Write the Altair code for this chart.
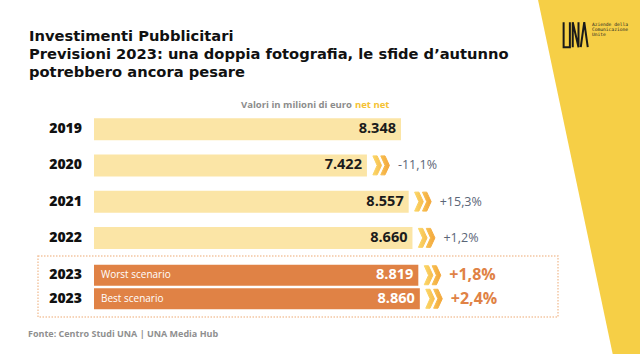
import altair as alt
import pandas as pd

# ---------------- data ----------------
years = ["2019", "2020", "2021", "2022", "2023", "2023"]
values = [8348, 7422, 8557, 8660, 8819, 8860]
changes = ["", "-11,1%", "+15,3%", "+1,2%", "+1,8%", "+2,4%"]
scenarios = ["", "", "", "", "Worst scenario", "Best scenario"]
groups = ["hist", "hist", "hist", "hist", "fcst", "fcst"]

title_lines = [
    "Investimenti Pubblicitari",
    "Previsioni 2023: una doppia fotografia, le sfide d\u2019autunno",
    "potrebbero ancora pesare",
]
subtitle_main = "Valori in milioni di euro"
subtitle_accent = "net net"
source_text = "Fonte: Centro Studi UNA | UNA Media Hub"
logo_lines = ["Aziende della", "Comunicazione", "Unite"]


def it_fmt(v):
    return f"{v:,}".replace(",", ".")


df = pd.DataFrame({
    "row": [f"r{i}" for i in range(len(years))],
    "year": years,
    "value": values,
    "label": [it_fmt(v) for v in values],
    "change": changes,
    "scenario": scenarios,
    "group": groups,
})

FONT = "Open Sans"
TFONT = "DejaVu Sans"
YELLOW = "#f6cf46"
LIGHT = "#fbe5a6"
ORANGE = "#e08245"
ONE = alt.Data(values=[{}])

CHEV = ("M-0.85,-1 L-0.4,-1 L0.06,0 L-0.4,1 L-0.85,1 L-0.4,0 Z "
        "M-0.02,-1 L0.43,-1 L0.89,0 L0.43,1 L-0.02,1 L0.43,0 Z")
CHEV_FILL = alt.LinearGradient(
    gradient="linear", x1=0, y1=0, x2=1, y2=0,
    stops=[alt.GradientStop(color="#fbd767", offset=0),
           alt.GradientStop(color="#f3a63a", offset=1)],
)

xs = alt.Scale(domain=[0, 10000], range=[94, 461.75])


def rows_layer(group, y_range, bar_size, bar_color, val_color,
               pct_color, pct_size, pct_weight):
    sub = df[df.group == group]
    ysc = alt.Scale(domain=list(sub.row), range=y_range,
                    paddingInner=0, paddingOuter=0)
    base = alt.Chart(sub).encode(y=alt.Y("row:N", scale=ysc, axis=None))
    X = alt.X("value:Q", scale=xs, axis=None)
    bars = base.mark_bar(size=bar_size, color=bar_color).encode(x=X)
    vals = base.mark_text(align="right", dx=-5, baseline="middle", font=FONT,
                          fontSize=14.5, fontWeight="bold",
                          color=val_color).encode(x=X, text="label:N")
    yrs = base.mark_text(align="right", baseline="middle", font=FONT,
                         fontSize=14, fontWeight=800,
                         color="#111111").encode(x=alt.value(82), text="year:N")
    chg = base.transform_filter("datum.change != ''")
    chev = chg.mark_point(shape=CHEV, size=360, filled=True, opacity=1,
                          fill=CHEV_FILL, stroke=CHEV_FILL, strokeWidth=1,
                          strokeJoin="round", xOffset=14).encode(x=X)
    pct = chg.mark_text(align="left", dx=31, baseline="middle", font=FONT,
                        fontSize=pct_size, fontWeight=pct_weight,
                        color=pct_color).encode(x=X, text="change:N")
    layers = [bars, vals, yrs, chev, pct]
    if group == "fcst":
        scen = base.mark_text(align="left", baseline="middle", font=FONT,
                              fontSize=10, color="white").encode(
            x=alt.value(101), text="scenario:N")
        layers.append(scen)
    return alt.layer(*layers)


hist = rows_layer("hist", [111, 256], 22, LIGHT, "#1b1b1b", "#5b6577", 12.5, 500)
fcst = rows_layer("fcst", [263.5, 310.5], 21, ORANGE, "white", ORANGE, 16, "bold")

# ---------------- decoration ----------------
BG_PATH = "M-0.29,-1.01 L0.136,1.01 L0.31,1.01 L0.31,-1.01 Z"
bg = alt.Chart(ONE).mark_point(shape=BG_PATH, size=125316, filled=True,
                               opacity=1, fill=YELLOW, strokeWidth=0).encode(
    x=alt.value(589), y=alt.value(177))

LOGO_PATH = ("M-0.95,-1 L-0.95,1 L-0.45,1 L-0.45,-1 "
             "M-0.22,1 L-0.22,-1 L0.24,1 L0.24,-1 "
             "M0.42,1 L0.7,-1 L0.98,1")
logo = alt.Chart(ONE).mark_point(shape=LOGO_PATH, size=625, filled=False,
                                 opacity=1, stroke="#1a1a1a",
                                 strokeWidth=2).encode(
    x=alt.value(575.5), y=alt.value(34.7))
logo_txt = alt.Chart(ONE).mark_text(align="left", baseline="top",
                                    font="DejaVu Sans Mono", fontSize=4.6,
                                    lineHeight=5, color="#222222").encode(
    x=alt.value(592), y=alt.value(21.5), text=alt.value(logo_lines))

title = alt.Chart(ONE).mark_text(align="left", baseline="alphabetic", font=TFONT,
                                 fontSize=14.7, fontWeight="bold",
                                 lineHeight=18, color="#111111").encode(
    x=alt.value(29), y=alt.value(40.5), text=alt.value(title_lines))

sub1 = alt.Chart(ONE).mark_text(align="right", baseline="middle", font=FONT,
                                fontSize=9.5, fontWeight="bold",
                                color="#8c8c8c").encode(
    x=alt.value(352), y=alt.value(105), text=alt.value(subtitle_main))
sub2 = alt.Chart(ONE).mark_text(align="left", baseline="middle", font=FONT,
                                fontSize=9.5, fontWeight="bold",
                                color="#f5c233").encode(
    x=alt.value(355), y=alt.value(105), text=alt.value(subtitle_accent))

box = alt.Chart(ONE).mark_rect(fill=None, stroke="#f3c6a3", strokeWidth=1.5,
                               strokeDash=[1.5, 1.5]).encode(
    x=alt.value(38), x2=alt.value(558), y=alt.value(256), y2=alt.value(317))

footer = alt.Chart(ONE).mark_text(align="left", baseline="middle", font=FONT,
                                  fontSize=9, fontWeight="bold",
                                  color="#8f8f8f").encode(
    x=alt.value(28), y=alt.value(334), text=alt.value(source_text))

chart = alt.layer(
    bg, logo, logo_txt, title, sub1, sub2, box, hist, fcst, footer
).resolve_scale(y="independent").properties(
    width=640, height=354,
    autosize=alt.AutoSizeParams(type="none"),
    padding=0, background="white",
).configure_view(stroke=None)

chart.save("out.html", embed_options={"renderer": "svg", "actions": False})
